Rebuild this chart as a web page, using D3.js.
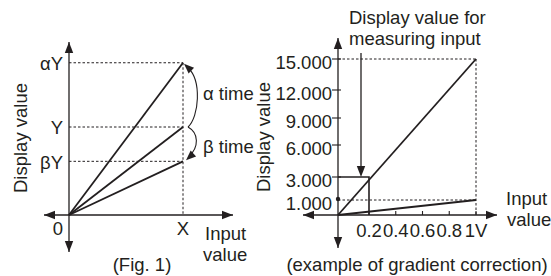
<!DOCTYPE html>
<html>
<head>
<meta charset="utf-8">
<script src="https://cdn.jsdelivr.net/npm/d3@7"></script>
<style>
  body { margin: 0; background: #fff; }
  text { font-family: "Liberation Sans", Arial, sans-serif; font-size: 18.5px; fill: #231f20; }
</style>
</head>
<body>
<div id="chart"></div>
<script>
// Fig. 1 data (schematic, X = 1, Y = 1)
const leftLabels = ["αY", "Y", "βY"];
const leftValues = [1.73, 1, 0.61];
const leftX = 1;
const curveLabels = ["α time", "β time"];

// gradient correction example
const rightTicks = [1, 3, 6, 9, 12, 15];
const rightTickLabels = ["1.000", "3.000", "6.000", "9.000", "12.000", "15.000"];
const xTicks = [0.2, 0.4, 0.6, 0.8, 1];
const xTickLabels = ["0.2", "0.4", "0.6", "0.8", "1V"];
const fullScaleInput = 1;
const corrected = 15;   // display at 1V after correction
const original = 1;     // display at 1V before correction
const measured = [0.2, 3];

const W = 551, H = 276;
const ink = "#231f20";

const svg = d3.select("#chart").append("svg")
    .attr("width", W)
    .attr("height", H);

// filled triangle with its tip at (x, y), pointing along (dx, dy)
function arrowHead(g, x, y, dx, dy, len = 10, half = 4) {
    const n = Math.hypot(dx, dy), ux = dx / n, uy = dy / n;
    const bx = x - ux * len, by = y - uy * len;
    g.append("path")
        .attr("d", `M${x},${y}L${bx - uy * half},${by + ux * half}L${bx + uy * half},${by - ux * half}Z`)
        .attr("fill", ink);
}

function axisLine(g, x1, y1, x2, y2) {
    g.append("line")
        .attr("x1", x1).attr("y1", y1)
        .attr("x2", x2).attr("y2", y2)
        .attr("stroke", ink)
        .attr("stroke-width", 1.3);
    arrowHead(g, x1, y1, x1 - x2, y1 - y2, 11, 4.2);
    arrowHead(g, x2, y2, x2 - x1, y2 - y1, 11, 4.2);
}

function dashed(g, x1, y1, x2, y2) {
    g.append("line")
        .attr("x1", x1).attr("y1", y1)
        .attr("x2", x2).attr("y2", y2)
        .attr("stroke", ink).attr("stroke-width", 1)
        .attr("stroke-dasharray", "2.5,2");
}

// ---------- left: Fig. 1 ----------
const L = svg.append("g");
const xL = d3.scaleLinear().domain([0, 1]).range([69, 183]);
const yL = d3.scaleLinear().domain([0, 1]).range([215, 127]);

axisLine(L, 69, 252, 69, 42);
axisLine(L, 44, yL(0), 233, yL(0));

// dashed guides
leftValues.forEach(v => dashed(L, xL(0), yL(v), xL(leftX), yL(v)));
dashed(L, xL(leftX), yL(d3.max(leftValues)), xL(leftX), yL(0));

// lines from origin
L.selectAll(".ray")
  .data(leftValues)
  .join("line")
    .attr("x1", xL(0)).attr("y1", yL(0))
    .attr("x2", xL(leftX)).attr("y2", d => yL(d))
    .attr("stroke", ink).attr("stroke-width", 1.8);

// tick labels
L.selectAll(".ylab")
  .data(leftLabels)
  .join("text")
    .attr("x", 63)
    .attr("y", (d, i) => yL(leftValues[i]))
    .attr("dy", "0.4em")
    .attr("text-anchor", "end")
    .text(d => d);
L.append("text").attr("x", 58).attr("y", 228).attr("dy", "0.36em")
    .attr("text-anchor", "middle").text("0");
L.append("text").attr("x", xL(leftX)).attr("y", 228).attr("dy", "0.36em")
    .attr("text-anchor", "middle").text("X");

// curved arrows between the end points
const px = xL(leftX);
const yA = yL(leftValues[0]), yY = yL(leftValues[1]), yB = yL(leftValues[2]);
L.append("path")
    .attr("d", `M${px + 5},${yY}C${px + 16},${yY - 10} ${px + 19},${yA + 18} ${px + 5},${yA + 5}`)
    .attr("fill", "none").attr("stroke", ink).attr("stroke-width", 1.1);
arrowHead(L, px + 1, yA + 1, -14, -13);
L.append("path")
    .attr("d", `M${px + 5},${yY}C${px + 16},${yY + 6} ${px + 16},${yB - 14} ${px + 6},${yB - 5}`)
    .attr("fill", "none").attr("stroke", ink).attr("stroke-width", 1.1);
arrowHead(L, px + 3, yB - 1, -12, 11);
L.append("text").attr("x", 203).attr("y", (yA + yY) / 2 - 2).attr("dy", "0.36em").text(curveLabels[0]);
L.append("text").attr("x", 203).attr("y", (yY + yB) / 2 + 2).attr("dy", "0.36em").text(curveLabels[1]);

L.append("text")
    .attr("transform", "translate(27,138) rotate(-90)")
    .attr("text-anchor", "middle")
    .text("Display value");
L.append("text").attr("x", 205).attr("y", 233).attr("dy", "0.36em").text("Input");
L.append("text").attr("x", 203).attr("y", 254).attr("dy", "0.36em").text("value");
L.append("text").attr("x", 142).attr("y", 264).attr("dy", "0.36em")
    .attr("text-anchor", "middle").text("(Fig. 1)");

// ---------- right: gradient correction ----------
const R = svg.append("g");
const xR = d3.scaleLinear().domain([0, 0.2, 1]).range([338, 369, 476]);
const yR = d3.scaleLinear().domain([0, 1, 3, 6, 9, 12, 15]).range([215, 200, 177, 145, 118, 90, 59]);

axisLine(R, xR(0), 248, xR(0), 38);
axisLine(R, 303, yR(0), 497, yR(0));

// y ticks
R.selectAll(".ytick")
  .data(rightTicks.filter(d => d !== 1))
  .join("line")
    .attr("x1", xR(0) - 6).attr("x2", xR(0) + 3)
    .attr("y1", d => yR(d)).attr("y2", d => yR(d))
    .attr("stroke", ink).attr("stroke-width", 1.1);
R.selectAll(".ylab")
  .data(rightTicks)
  .join("text")
    .attr("x", 332)
    .attr("y", d => yR(d))
    .attr("dy", "0.55em")
    .attr("text-anchor", "end")
    .text((d, i) => rightTickLabels[i]);

// x ticks
R.selectAll(".xtick")
  .data(xTicks)
  .join("line")
    .attr("x1", d => xR(d)).attr("x2", d => xR(d))
    .attr("y1", yR(0) - 4).attr("y2", yR(0))
    .attr("stroke", ink).attr("stroke-width", 1.1);
R.selectAll(".xlab")
  .data(xTicks)
  .join("text")
    .attr("x", d => xR(d))
    .attr("y", 230)
    .attr("dy", "0.36em")
    .attr("text-anchor", "middle")
    .text((d, i) => xTickLabels[i]);

// dashed guides
dashed(R, xR(0), yR(corrected), xR(fullScaleInput), yR(corrected));
dashed(R, xR(0), yR(original), xR(fullScaleInput), yR(original));
dashed(R, xR(fullScaleInput), yR(corrected), xR(fullScaleInput), yR(0));

// measurement box
R.append("path")
    .attr("d", `M${xR(0)},${yR(measured[1])}H${xR(measured[0])}V${yR(0)}`)
    .attr("fill", "none").attr("stroke", ink).attr("stroke-width", 1.6);

// correction lines
R.selectAll(".ray")
  .data([corrected, original])
  .join("line")
    .attr("x1", xR(0)).attr("y1", yR(0))
    .attr("x2", xR(fullScaleInput)).attr("y2", d => yR(d))
    .attr("stroke", ink).attr("stroke-width", 1.8);

R.append("circle")
    .attr("cx", xR(0)).attr("cy", yR(original) - 1)
    .attr("r", 2.2).attr("fill", ink);

// pointer arrow
R.append("line")
    .attr("x1", 361).attr("y1", 53)
    .attr("x2", 361).attr("y2", yR(measured[1]) - 6)
    .attr("stroke", ink).attr("stroke-width", 1.3);
arrowHead(R, 361, yR(measured[1]), 0, 1, 11, 4.2);

R.append("text").attr("x", 349).attr("y", 17).attr("dy", "0.36em").text("Display value for");
R.append("text").attr("x", 349).attr("y", 38).attr("dy", "0.36em").text("measuring input");
R.append("text")
    .attr("transform", "translate(270,137) rotate(-90)")
    .attr("text-anchor", "middle")
    .text("Display value");
R.append("text").attr("x", 506).attr("y", 198).attr("dy", "0.36em").text("Input");
R.append("text").attr("x", 507).attr("y", 219).attr("dy", "0.36em").text("value");
R.append("text").attr("x", 417).attr("y", 264).attr("dy", "0.36em")
    .attr("text-anchor", "middle").text("(example of gradient correction)");
</script>
</body>
</html>
